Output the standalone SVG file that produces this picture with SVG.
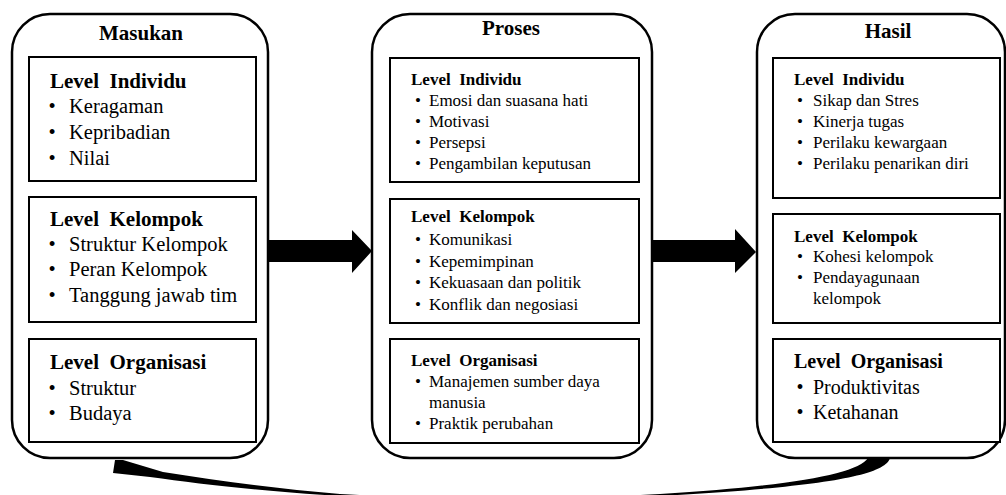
<svg xmlns="http://www.w3.org/2000/svg" width="1006" height="495" viewBox="0 0 1006 495">
<style>
text { font-family: "Liberation Serif", "Times New Roman", serif; fill: #000; white-space: pre; }
.title { font-weight: bold; font-size: 21px; text-anchor: middle; }
.hL { font-weight: bold; font-size: 21px; }
.iL { font-size: 20.5px; }
.hM { font-weight: bold; font-size: 17px; }
.iM { font-size: 17px; }
.hR2 { font-weight: bold; font-size: 20px; }
.iR2 { font-size: 20px; }
.bul { text-anchor: middle; }
.outer { fill: #fff; stroke: #000; stroke-width: 2.5; }
.inner { fill: #fff; stroke: #000; stroke-width: 2; }
.arrow { fill: #000; stroke: none; }
</style>
<rect width="1006" height="495" fill="#fff"/>

<g id="masukan">
<rect class="outer" x="12" y="14" width="256" height="444" rx="38" ry="38"/>
<text class="title" x="141" y="40">Masukan</text>
<g id="masukan-individu">
<rect class="inner" x="29" y="57" width="227" height="124"/>
<text class="hL" x="50" y="88">Level  Individu</text>
<text class="iL bul" x="52" y="113">•</text><text class="iL" x="69" y="113">Keragaman</text>
<text class="iL bul" x="52" y="139">•</text><text class="iL" x="69" y="139">Kepribadian</text>
<text class="iL bul" x="52" y="165">•</text><text class="iL" x="69" y="165">Nilai</text>
</g>
<g id="masukan-kelompok">
<rect class="inner" x="29" y="197" width="227" height="125"/>
<text class="hL" x="50" y="226">Level  Kelompok</text>
<text class="iL bul" x="52" y="251">•</text><text class="iL" x="69" y="251">Struktur Kelompok</text>
<text class="iL bul" x="52" y="276">•</text><text class="iL" x="69" y="276">Peran Kelompok</text>
<text class="iL bul" x="52" y="302">•</text><text class="iL" x="69" y="302">Tanggung jawab tim</text>
</g>
<g id="masukan-organisasi">
<rect class="inner" x="29" y="339" width="227" height="103"/>
<text class="hL" x="50" y="369">Level  Organisasi</text>
<text class="iL bul" x="52" y="395">•</text><text class="iL" x="69" y="395">Struktur</text>
<text class="iL bul" x="52" y="420">•</text><text class="iL" x="69" y="420">Budaya</text>
</g>
</g>

<g id="proses">
<rect class="outer" x="372" y="14" width="280" height="444" rx="38" ry="38"/>
<text class="title" x="511" y="35">Proses</text>
<g id="proses-individu">
<rect class="inner" x="390" y="58" width="249" height="124"/>
<text class="hM" x="411" y="85">Level  Individu</text>
<text class="iM bul" x="418" y="106">•</text><text class="iM" x="429" y="106">Emosi dan suasana hati</text>
<text class="iM bul" x="418" y="127">•</text><text class="iM" x="429" y="127">Motivasi</text>
<text class="iM bul" x="418" y="148">•</text><text class="iM" x="429" y="148">Persepsi</text>
<text class="iM bul" x="418" y="169">•</text><text class="iM" x="429" y="169">Pengambilan keputusan</text>
</g>
<g id="proses-kelompok">
<rect class="inner" x="390" y="199" width="249" height="124"/>
<text class="hM" x="411" y="222">Level  Kelompok</text>
<text class="iM bul" x="418" y="245">•</text><text class="iM" x="429" y="245">Komunikasi</text>
<text class="iM bul" x="418" y="267">•</text><text class="iM" x="429" y="267">Kepemimpinan</text>
<text class="iM bul" x="418" y="288">•</text><text class="iM" x="429" y="288">Kekuasaan dan politik</text>
<text class="iM bul" x="418" y="310">•</text><text class="iM" x="429" y="310">Konflik dan negosiasi</text>
</g>
<g id="proses-organisasi">
<rect class="inner" x="390" y="339" width="249" height="104"/>
<text class="hM" x="411" y="366">Level  Organisasi</text>
<text class="iM bul" x="418" y="387">•</text><text class="iM" x="429" y="387">Manajemen sumber daya</text>
<text class="iM" x="429" y="408">manusia</text>
<text class="iM bul" x="418" y="429">•</text><text class="iM" x="429" y="429">Praktik perubahan</text>
</g>
</g>

<g id="hasil">
<rect class="outer" x="757" y="14" width="248" height="444" rx="38" ry="38"/>
<text class="title" x="888" y="38">Hasil</text>
<g id="hasil-individu">
<rect class="inner" x="773" y="58" width="227" height="140"/>
<text class="hM" x="794" y="85">Level  Individu</text>
<text class="iM bul" x="800" y="106">•</text><text class="iM" x="813" y="106">Sikap dan Stres</text>
<text class="iM bul" x="800" y="127">•</text><text class="iM" x="813" y="127">Kinerja tugas</text>
<text class="iM bul" x="800" y="148">•</text><text class="iM" x="813" y="148">Perilaku kewargaan</text>
<text class="iM bul" x="800" y="169">•</text><text class="iM" x="813" y="169">Perilaku penarikan diri</text>
</g>
<g id="hasil-kelompok">
<rect class="inner" x="773" y="214" width="227" height="109"/>
<text class="hM" x="794" y="242">Level  Kelompok</text>
<text class="iM bul" x="800" y="262">•</text><text class="iM" x="813" y="262">Kohesi kelompok</text>
<text class="iM bul" x="800" y="283">•</text><text class="iM" x="813" y="283">Pendayagunaan</text>
<text class="iM" x="813" y="304">kelompok</text>
</g>
<g id="hasil-organisasi">
<rect class="inner" x="773" y="339" width="227" height="103"/>
<text class="hR2" x="794" y="368">Level  Organisasi</text>
<text class="iR2 bul" x="800" y="394">•</text><text class="iR2" x="813" y="394">Produktivitas</text>
<text class="iR2 bul" x="800" y="419">•</text><text class="iR2" x="813" y="419">Ketahanan</text>
</g>
</g>

<g id="connectors">
<polygon class="arrow" points="268,240 352,240 352,230 372,251 352,273 352,262 268,262"/>
<polygon class="arrow" points="652,240 735,240 735,229 756,252 735,273 735,262 652,262"/>
<path class="arrow" d="M 868 458 L 890 458 C 885 476 820 487 660 496 C 550 502 450 502 340 496 C 260 491 200 484 150 477 L 113 473 L 115 460 L 123 460 L 163 472 C 220 481 280 489 340 494 C 450 500 550 500 660 494 C 790 486 858 474 868 458 Z"/>
</g>
</svg>
